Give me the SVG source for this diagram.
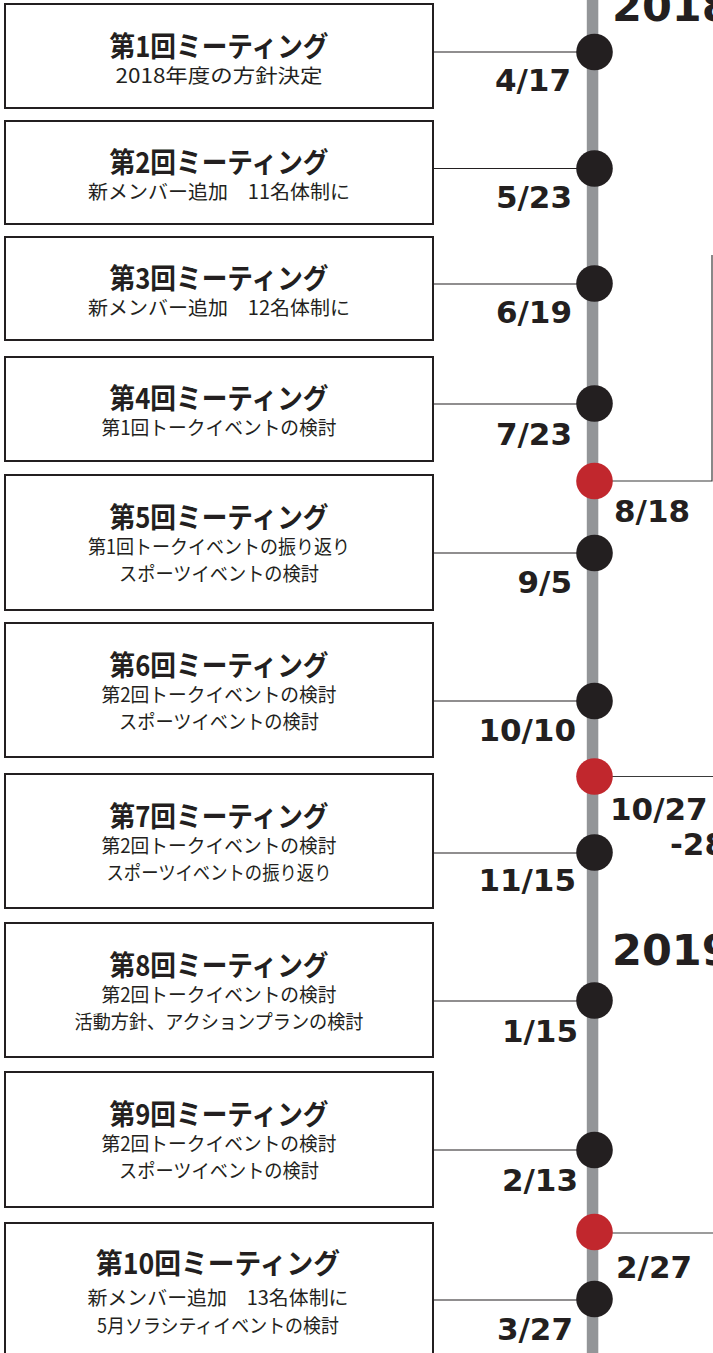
<svg xmlns="http://www.w3.org/2000/svg" width="713" height="1353" viewBox="0 0 713 1353">
<style>
.box{fill:#fff;stroke:#231f20;stroke-width:2}
.ttl{font-family:"Noto Sans CJK JP",sans-serif;font-weight:700;font-size:28.5px;fill:#231f20;text-anchor:middle}
.sub{font-family:"Noto Sans CJK JP",sans-serif;font-weight:400;font-size:19.5px;fill:#231f20;text-anchor:middle}
.date{font-family:"DejaVu Sans",sans-serif;font-weight:700;font-size:31px;fill:#231f20;text-anchor:end}
.rdate{font-family:"DejaVu Sans",sans-serif;font-weight:700;font-size:31px;fill:#231f20}
.year{font-family:"DejaVu Sans",sans-serif;font-weight:700;font-size:43px;fill:#231f20}
.con{stroke:#231f20;stroke-width:1.2;fill:none}
.rcon{stroke:#3a3a3a;stroke-width:1.2;fill:none}
.dot{fill:#231f20}
.rdot{fill:#c1272d}
</style>
<rect x="586.8" y="0" width="11.5" height="1353" fill="#939598"/>
<g id="connectors">
<line class="con" x1="434" y1="52" x2="578" y2="52"/>
<line class="con" x1="434" y1="168.5" x2="578" y2="168.5"/>
<line class="con" x1="434" y1="284" x2="578" y2="284"/>
<line class="con" x1="434" y1="404" x2="578" y2="404"/>
<line class="con" x1="434" y1="553" x2="578" y2="553"/>
<line class="con" x1="434" y1="701" x2="578" y2="701"/>
<line class="con" x1="434" y1="853" x2="578" y2="853"/>
<line class="con" x1="434" y1="1001" x2="578" y2="1001"/>
<line class="con" x1="434" y1="1150" x2="578" y2="1150"/>
<line class="con" x1="434" y1="1300" x2="578" y2="1300"/>
<polyline class="rcon" points="610,481 712,481 712,255"/>
<line class="rcon" x1="610" y1="776.5" x2="713" y2="776.5"/>
<line class="rcon" x1="610" y1="1233" x2="713" y2="1233"/>
</g>
<g id="m1"><rect class="box" x="5" y="4" width="428" height="104"/>
<text class="ttl" x="219" y="57" textLength="219" lengthAdjust="spacingAndGlyphs">第1回ミーティング</text>
<text class="sub" x="219" y="83" textLength="207" lengthAdjust="spacingAndGlyphs">2018年度の方針決定</text></g>
<g id="m2"><rect class="box" x="5" y="121" width="428" height="103"/>
<text class="ttl" x="219" y="173" textLength="219" lengthAdjust="spacingAndGlyphs">第2回ミーティング</text>
<text class="sub" x="219" y="199" textLength="262" lengthAdjust="spacingAndGlyphs">新メンバー追加　11名体制に</text></g>
<g id="m3"><rect class="box" x="5" y="237" width="428" height="103"/>
<text class="ttl" x="219" y="289" textLength="219" lengthAdjust="spacingAndGlyphs">第3回ミーティング</text>
<text class="sub" x="219" y="315" textLength="262" lengthAdjust="spacingAndGlyphs">新メンバー追加　12名体制に</text></g>
<g id="m4"><rect class="box" x="5" y="357" width="428" height="104"/>
<text class="ttl" x="219" y="409" textLength="219" lengthAdjust="spacingAndGlyphs">第4回ミーティング</text>
<text class="sub" x="219" y="435" textLength="235" lengthAdjust="spacingAndGlyphs">第1回トークイベントの検討</text></g>
<g id="m5"><rect class="box" x="5" y="475" width="428" height="135"/>
<text class="ttl" x="219" y="528" textLength="219" lengthAdjust="spacingAndGlyphs">第5回ミーティング</text>
<text class="sub" x="219" y="554" textLength="262" lengthAdjust="spacingAndGlyphs">第1回トークイベントの振り返り</text>
<text class="sub" x="219" y="581" textLength="200" lengthAdjust="spacingAndGlyphs">スポーツイベントの検討</text></g>
<g id="m6"><rect class="box" x="5" y="623" width="428" height="134"/>
<text class="ttl" x="219" y="676" textLength="219" lengthAdjust="spacingAndGlyphs">第6回ミーティング</text>
<text class="sub" x="219" y="702" textLength="235" lengthAdjust="spacingAndGlyphs">第2回トークイベントの検討</text>
<text class="sub" x="219" y="729" textLength="200" lengthAdjust="spacingAndGlyphs">スポーツイベントの検討</text></g>
<g id="m7"><rect class="box" x="5" y="774" width="428" height="134"/>
<text class="ttl" x="219" y="827" textLength="219" lengthAdjust="spacingAndGlyphs">第7回ミーティング</text>
<text class="sub" x="219" y="853" textLength="235" lengthAdjust="spacingAndGlyphs">第2回トークイベントの検討</text>
<text class="sub" x="219" y="880" textLength="225" lengthAdjust="spacingAndGlyphs">スポーツイベントの振り返り</text></g>
<g id="m8"><rect class="box" x="5" y="923" width="428" height="134"/>
<text class="ttl" x="219" y="976" textLength="219" lengthAdjust="spacingAndGlyphs">第8回ミーティング</text>
<text class="sub" x="219" y="1002" textLength="235" lengthAdjust="spacingAndGlyphs">第2回トークイベントの検討</text>
<text class="sub" x="219" y="1029" textLength="289" lengthAdjust="spacingAndGlyphs">活動方針、アクションプランの検討</text></g>
<g id="m9"><rect class="box" x="5" y="1072" width="428" height="135"/>
<text class="ttl" x="219" y="1125" textLength="219" lengthAdjust="spacingAndGlyphs">第9回ミーティング</text>
<text class="sub" x="219" y="1151" textLength="235" lengthAdjust="spacingAndGlyphs">第2回トークイベントの検討</text>
<text class="sub" x="219" y="1178" textLength="200" lengthAdjust="spacingAndGlyphs">スポーツイベントの検討</text></g>
<g id="m10"><rect class="box" x="5" y="1223" width="428" height="140"/>
<text class="ttl" x="218" y="1274" textLength="244" lengthAdjust="spacingAndGlyphs">第10回ミーティング</text>
<text class="sub" x="218" y="1305" textLength="261" lengthAdjust="spacingAndGlyphs">新メンバー追加　13名体制に</text>
<text class="sub" x="218" y="1333" textLength="242" lengthAdjust="spacingAndGlyphs">5月ソラシティイベントの検討</text></g>
<g id="points">
<circle class="dot" cx="594.5" cy="52" r="18.3"/>
<circle class="dot" cx="594.5" cy="168.5" r="18.3"/>
<circle class="dot" cx="594.5" cy="283.5" r="18.3"/>
<circle class="dot" cx="594.5" cy="403.5" r="18.3"/>
<circle class="rdot" cx="594.5" cy="481" r="18.3"/>
<circle class="dot" cx="594.5" cy="553" r="18.3"/>
<circle class="dot" cx="594.5" cy="701" r="18.3"/>
<circle class="rdot" cx="594.5" cy="776.5" r="18.3"/>
<circle class="dot" cx="594.5" cy="852.5" r="18.3"/>
<circle class="dot" cx="594.5" cy="1000.5" r="18.3"/>
<circle class="dot" cx="594.5" cy="1150" r="18.3"/>
<circle class="rdot" cx="594.5" cy="1232" r="18.3"/>
<circle class="dot" cx="594.5" cy="1299" r="18.3"/>
</g>
<g id="dates">
<text class="date" x="571" y="91">4/17</text>
<text class="date" x="572" y="208">5/23</text>
<text class="date" x="572" y="323">6/19</text>
<text class="date" x="572" y="445">7/23</text>
<text class="date" x="572" y="593">9/5</text>
<text class="date" x="576" y="741">10/10</text>
<text class="date" x="576" y="891">11/15</text>
<text class="date" x="578" y="1042">1/15</text>
<text class="date" x="578" y="1191">2/13</text>
<text class="date" x="573" y="1340">3/27</text>
<text class="rdate" x="614" y="522">8/18</text>
<text class="rdate" x="610" y="820">10/27</text>
<text class="rdate" x="670" y="855">-28</text>
<text class="rdate" x="616" y="1278">2/27</text>
</g>
<g id="years">
<text class="year" x="612" y="21">2018</text>
<text class="year" x="612" y="965">2019</text>
</g>
</svg>
